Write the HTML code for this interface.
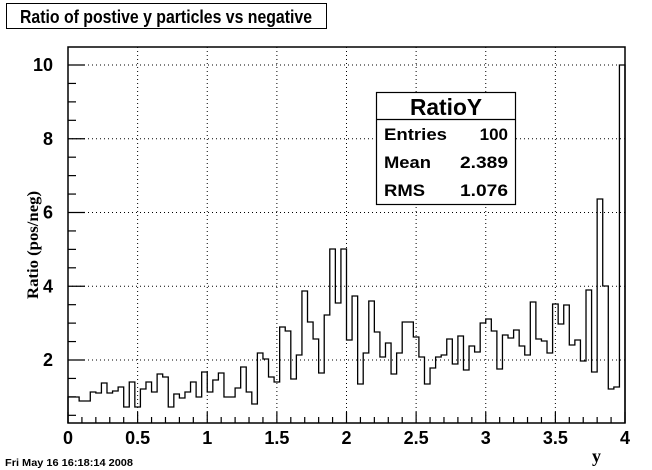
<!DOCTYPE html>
<html><head><meta charset="utf-8"><style>
html,body{margin:0;padding:0;background:#fff;}
svg{display:block;}
text{font-family:"Liberation Sans",Arial,sans-serif;font-weight:bold;fill:#000;}
</style></head><body>
<svg id="s" width="652" height="470" viewBox="0 0 652 470" xmlns="http://www.w3.org/2000/svg">
<rect x="0" y="0" width="652" height="470" fill="#fff"/>
<rect x="6.5" y="3.5" width="320" height="25" fill="#fff" stroke="#000" stroke-width="1"/>
<text x="20" y="23" font-size="18" textLength="292" lengthAdjust="spacingAndGlyphs">Ratio of postive y particles vs negative</text>
<g id="grid" stroke="#000" stroke-width="1" stroke-dasharray="1,3"></g>
<rect x="68" y="47" width="557" height="376" fill="none" stroke="#000" stroke-width="1.5"/>
<g id="ticks" stroke="#000" stroke-width="1.2"></g>
<path id="h" fill="none" stroke="#000" stroke-width="1.3"/>
<g id="lbl" font-size="18"></g>
<text transform="translate(38,245) rotate(-90)" text-anchor="middle" font-size="16" textLength="108" lengthAdjust="spacingAndGlyphs" style="font-family:'Liberation Serif',serif;font-weight:bold">Ratio (pos/neg)</text>
<text x="592" y="462" font-size="18" style="font-family:'Liberation Serif',serif;font-weight:bold">y</text>
<text x="5" y="466" font-size="10" textLength="128" lengthAdjust="spacingAndGlyphs">Fri May 16 16:18:14 2008</text>
<rect x="376.5" y="92.5" width="139" height="112" fill="#fff" stroke="#000" stroke-width="1.2"/>
<line x1="376" y1="119.5" x2="516" y2="119.5" stroke="#000" stroke-width="1.2"/>
<text x="446" y="115" font-size="23" text-anchor="middle" textLength="72" lengthAdjust="spacingAndGlyphs">RatioY</text>
<text x="384" y="140" font-size="17" textLength="63" lengthAdjust="spacingAndGlyphs">Entries</text><text x="508" y="140" font-size="17" text-anchor="end">100</text>
<text x="384" y="168" font-size="17" textLength="47" lengthAdjust="spacingAndGlyphs">Mean</text><text x="508" y="168" font-size="17" text-anchor="end" textLength="48" lengthAdjust="spacingAndGlyphs">2.389</text>
<text x="384" y="196" font-size="17" textLength="41" lengthAdjust="spacingAndGlyphs">RMS</text><text x="508" y="196" font-size="17" text-anchor="end" textLength="48" lengthAdjust="spacingAndGlyphs">1.076</text>
</svg>
<script>
var ys=[397,397,401,401,392,393,383,393,391,387,407,382,407,389,382,392,374,377,407,394,398,392,382,397,372,392,380,373,397,397,388,367,392,404,353,359,377,382,327,331,379,355,291,322,339,373,315,249,303,249,340,296,384,353,301,332,357,343,374,353,322,322,337,357,384,368,357,355,339,364,336,370,346,352,323,319,331,369,335,338,330,346,355,302,339,341,353,304,324,305,345,340,361,290,372,199,286,389,387,65];
var B=423,x0=68,x1=625,bw=(x1-x0)/100,d="M"+x0+" "+B;
for(var i=0;i<100;i++){d+=" L"+(x0+i*bw).toFixed(2)+" "+ys[i]+" L"+(x0+(i+1)*bw).toFixed(2)+" "+ys[i];}
d+=" L"+x1+" "+B;
document.getElementById("h").setAttribute("d",d);
var ns="http://www.w3.org/2000/svg";
function L(g,a,b,c,e){var l=document.createElementNS(ns,"line");l.setAttribute("x1",a);l.setAttribute("y1",b);l.setAttribute("x2",c);l.setAttribute("y2",e);document.getElementById(g).appendChild(l);}
function T(x,y,s,anc){var t=document.createElementNS(ns,"text");t.setAttribute("x",x);t.setAttribute("y",y);t.setAttribute("text-anchor",anc);t.textContent=s;document.getElementById("lbl").appendChild(t);}
var ux=(x1-x0)/4;
for(var k=1;k<8;k++){var X=x0+k*ux/2;L("grid",X,47,X,B);}
var uy=36.875;function Y(v){return 65+(10-v)*uy;}
for(var v=2;v<=10;v+=2){L("grid",68,Y(v),625,Y(v));}
for(var k=0;k<=40;k++){var X=x0+k*ux/10;var len=(k%5==0)?11:6;L("ticks",X,B,X,B-len);}
for(var j=1;j<=20;j++){var v=j*0.5;if(Y(v)>B)continue;var len=(j%4==0)?17:8;L("ticks",68,Y(v),68+len,Y(v));}
var xl=["0","0.5","1","1.5","2","2.5","3","3.5","4"];
for(var k=0;k<9;k++){T(x0+k*ux/2,444,xl[k],"middle");}
for(var v=2;v<=10;v+=2){T(53,Y(v)+6,String(v),"end");}
</script>
</body></html>
